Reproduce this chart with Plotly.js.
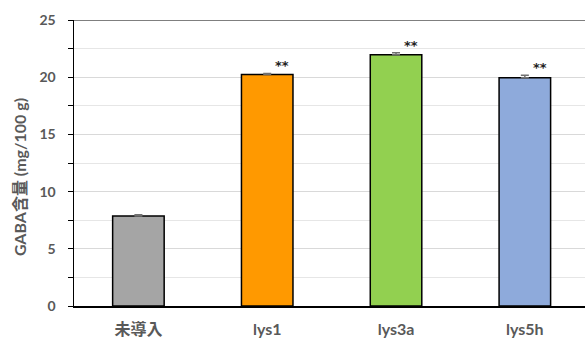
<!DOCTYPE html>
<html><head><meta charset="utf-8">
<script src="https://cdn.plot.ly/plotly-3.0.1.min.js"></script>
<style>html,body{margin:0;padding:0;background:#fff}</style>
</head><body>
<div id="chart" style="width:585px;height:342px"></div>
<script>
const categories = ["未導入", "lys1", "lys3a", "lys5h"];
const values = [7.87, 20.23, 21.97, 19.96];
const errors = [0.1, 0.1, 0.17, 0.2];
const barColors = ["#a5a5a5", "#ff9900", "#92d050", "#8eaadb"];
const sigLabels = ["", "**", "**", "**"];
const yTicks = [0, 5, 10, 15, 20, 25];
const yTitle = "GABA含量 (mg/100 g)";

const font = "Lato, 'Noto Sans CJK JP', sans-serif";
const trace = {
  type: "bar",
  x: categories.map((c, i) => i),
  y: values,
  width: 0.4,
  marker: {color: barColors, line: {color: "#000", width: 1.5}},
  error_y: {type: "data", symmetric: false, array: errors, arrayminus: errors.map(() => 0),
            color: "#707070", thickness: 1.5, width: 4},
  hoverinfo: "skip"
};
const annotations = sigLabels.map((t, i) => ({
  x: i, y: values[i] + errors[i], text: t, showarrow: false,
  xanchor: "center", yanchor: "bottom", xshift: 15, yshift: -2,
  font: {family: "'DejaVu Sans', sans-serif", size: 13, color: "#222", weight: "bold"}
})).filter(a => a.text);
annotations.push({
  xref: "paper", yref: "paper", x: -0.108, y: 0.45, text: yTitle, textangle: -90,
  showarrow: false, xanchor: "center", yanchor: "middle",
  font: {family: font, size: 16, color: "#595959", weight: "bold"}
});

const layout = {
  width: 585, height: 342,
  margin: {l: 74, r: 0, t: 20, b: 36},
  paper_bgcolor: "#fff", plot_bgcolor: "#fff",
  showlegend: false,
  xaxis: {
    range: [-0.5, 3.467], tickvals: [0, 1, 2, 3], ticktext: categories,
    showgrid: false, zeroline: false, showline: true, linecolor: "#000", linewidth: 1.5,
    ticks: "", ticklabelstandoff: 8,
    tickfont: {family: font, size: 16, color: "#595959", weight: "bold"}
  },
  yaxis: {
    range: [0, 25], tickvals: yTicks, ticktext: yTicks.map(String),
    showgrid: true, gridcolor: "#d9d9d9", gridwidth: 1,
    zeroline: false, showline: true, linecolor: "#000", linewidth: 1.5,
    ticks: "outside", ticklen: 5, tickcolor: "#000", tickwidth: 1,
    ticklabelstandoff: 9,
    minor: {dtick: 2.5, tick0: 0, ticks: "outside", ticklen: 5, tickcolor: "#000", showgrid: true, gridcolor: "#e6e6e6", gridwidth: 1},
    tickfont: {family: font, size: 14, color: "#595959", weight: "bold"}
  },
  shapes: [{type: "line", xref: "paper", yref: "y", x0: 0, x1: 1, y0: 25, y1: 25,
            line: {color: "#7f7f7f", width: 2}}],
  annotations: annotations,
  bargap: 0.6
};
Plotly.newPlot("chart", [trace], layout, {staticPlot: true, displayModeBar: false});
</script>
</body></html>
